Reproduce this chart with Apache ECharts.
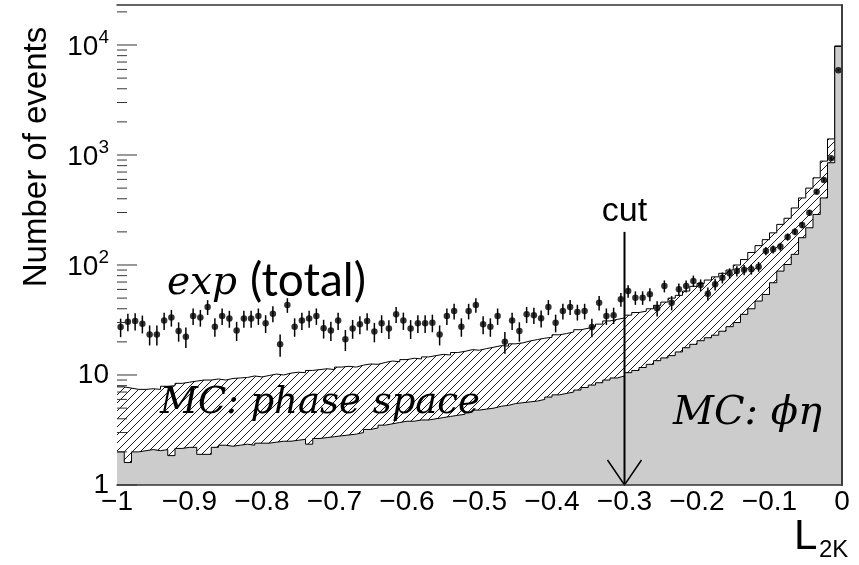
<!DOCTYPE html>
<html>
<head>
<meta charset="utf-8">
<title>L2K distribution</title>
<script src="https://cdn.jsdelivr.net/npm/echarts@6/dist/echarts.min.js"></script>
<style>
  html, body { margin: 0; padding: 0; background: #fff; }
  #chart { width: 859px; height: 565px; }
</style>
</head>
<body>
<div id="chart"></div>
<script>
// histogram binning: 100 bins over L2K in [-1, 0]
const binLo = -1
const binHi = 0
const nBins = 100

// MC: phi eta (grey, bottom of the stack)
const phiEta = [
  2.0, 1.6, 2.0, 2.05, 2.1, 2.05, 2.1, 1.85, 2.15, 2.2,
  2.2, 1.9, 1.9, 2.2, 2.3, 2.25, 2.3, 2.35, 2.3, 2.4,
  2.4, 2.45, 2.5, 2.5, 2.55, 2.6, 2.35, 2.65, 2.7, 2.75,
  2.8, 2.85, 2.9, 3.0, 3.2, 3.3, 3.5, 3.6, 3.7, 3.8,
  3.8, 3.9, 3.9, 4.0, 4.1, 4.2, 4.3, 4.4, 4.6, 4.8,
  4.9, 5.0, 5.2, 5.3, 5.5, 5.6, 5.7, 5.8, 6.0, 6.3,
  6.6, 6.8, 7.0, 7.3, 7.7, 8.1, 8.5, 9.0, 9.4, 9.8,
  10.5, 11.0, 11.7, 12.5, 13.5, 14.3, 15.0, 16.2, 17.7, 19.0,
  20.5, 21.8, 23.0, 25.0, 27.5, 30.0, 35.6, 40.0, 47.0, 54.0,
  69, 88, 101, 125, 177, 218, 288, 407, 850, 9700
]

// MC: phase space (hatched, stacked on top of phi eta)
const phaseSpace = [
  5.8, 6.0, 5.4, 5.35, 5.4, 5.35, 5.8, 6.15, 6.25, 6.4,
  6.6, 7.1, 7.1, 7.0, 6.7, 7.05, 7.1, 7.15, 7.5, 7.2,
  7.5, 7.75, 7.5, 7.9, 8.05, 7.9, 8.65, 8.55, 8.7, 8.45,
  9.0, 9.15, 8.9, 9.3, 9.4, 9.2, 9.5, 9.8, 9.5, 10.0,
  10.4, 10.1, 10.7, 11.0, 11.3, 11.0, 11.7, 12.0, 12.4, 12.0,
  12.5, 12.9, 13.3, 13.0, 13.7, 14.0, 14.7, 15.2, 15.6, 15.7,
  16.6, 17.0, 17.6, 18.5, 18.9, 19.4, 20.5, 22.0, 22.6, 23.2,
  24.5, 26.0, 26.3, 27.5, 29.5, 31.7, 35.0, 36.8, 40.3, 45.0,
  47.5, 51.2, 55.0, 59.0, 62.5, 70.0, 76.4, 90.0, 103, 116,
  127, 146, 165, 205, 230, 282, 332, 473, 550, 100
]

// exp (total): measured counts per bin
const expTotal = [
  27.3, 30.5, 30.9, 29.3, 23.4, 23.4, 31.3, 33.3, 25.1, 22.3,
  34.4, 33.3, 41.5, 27.5, 34.4, 32.6, 25.4, 32.6, 32.6, 34.4,
  29.5, 36.1, 19.0, 43.3, 27.5, 31.3, 32.6, 34.4, 26.6, 25.4,
  31.3, 21.1, 26.5, 28.9, 30.9, 24.8, 29.5, 26.4, 35.6, 31.3,
  26.4, 29.5, 29.5, 29.9, 23.4, 34.4, 38.2, 27.5, 38.2, 43.3,
  28.9, 27.5, 34.4, 20.1, 31.3, 25.1, 35.6, 35.0, 32.8, 41.5,
  29.9, 38.2, 41.5, 37.4, 38.2, 27.3, 45.4, 34.4, 35.0, 48.8,
  58.0, 50.5, 50.5, 54.1, 40.4, 64.4, 45.4, 60.1, 64.4, 71.6,
  65.8, 54.9, 66.7, 76.7, 84.0, 88.2, 90.4, 91.3, 96.6, 134,
  139, 147, 180, 201, 231, 299, 464, 593, 933, 5900
]

// axis ticks
const yMajor = [1, 10, 100, 1000, 10000]
const yMinor = [2, 3, 4, 5, 6, 7, 8, 9, 20, 30, 40, 50, 60, 70, 80, 90,
  200, 300, 400, 500, 600, 700, 800, 900, 2000, 3000, 4000, 5000, 6000, 7000, 8000, 9000, 20000]

// cut position
const cutX = -0.3
const cutTop = 200

const binW = (binHi - binLo) / nBins
const edges = []
const centers = []
for (let i = 0; i < nBins; i++) {
  edges.push(binLo + i * binW)
  centers.push(binLo + (i + 0.5) * binW)
}
const mcTotal = phiEta.map((v, i) => v + phaseSpace[i])

function stepData(vals) {
  const d = vals.map((v, i) => [edges[i], v])
  d.push([binHi, vals[vals.length - 1]])
  return d
}

function makeHatch() {
  const c = document.createElement('canvas')
  c.width = 8
  c.height = 8
  const g = c.getContext('2d')
  g.fillStyle = '#fff'
  g.fillRect(0, 0, 8, 8)
  g.strokeStyle = '#000'
  g.lineWidth = 0.9
  g.beginPath()
  g.moveTo(0, 8); g.lineTo(8, 0)
  g.moveTo(-1, 1); g.lineTo(1, -1)
  g.moveTo(7, 9); g.lineTo(9, 7)
  g.stroke()
  return c
}

const frame = '#333'
const sans = 'Liberation Sans'

// ticks on the left frame: [x, value, length]
const yTicks = yMajor.map(v => [binLo, v, 20]).concat(yMinor.map(v => [binLo, v, 10]))

const chart = echarts.init(document.getElementById('chart'), null, { renderer: 'canvas' })

chart.setOption({
  animation: false,
  backgroundColor: '#fff',
  grid: { left: 117, right: 17, top: 5, bottom: 80 },
  xAxis: [{
    type: 'value', min: binLo, max: binHi, interval: 0.1, z: 10,
    axisLine: { show: true, lineStyle: { color: frame, width: 1.5 } },
    axisTick: { show: false },
    splitLine: { show: false },
    axisLabel: {
      color: '#000', fontFamily: sans, fontSize: 28, margin: 3,
      formatter: v => String(Math.round(v * 10) / 10).replace('-', '\u2212')
    }
  }, {
    type: 'value', min: binLo, max: binHi, position: 'top', z: 10,
    axisLine: { show: true, lineStyle: { color: frame, width: 1.5 } },
    axisTick: { show: false }, axisLabel: { show: false }, splitLine: { show: false }
  }],
  yAxis: [{
    type: 'log', logBase: 10, min: 1, max: 23100, position: 'left', z: 10,
    axisLine: { show: true, lineStyle: { color: frame, width: 1.5 } },
    axisTick: { show: false },
    splitLine: { show: false },
    axisLabel: {
      customValues: yMajor, margin: 8, color: '#000', fontFamily: sans, fontSize: 28,
      formatter: v => {
        const k = Math.round(Math.log10(v))
        if (k < 2) return String(Math.round(v))
        return '{b|10}{s|' + k + '}'
      },
      rich: {
        b: { fontFamily: sans, fontSize: 28, color: '#000', verticalAlign: 'bottom' },
        s: { fontFamily: sans, fontSize: 19, color: '#000', verticalAlign: 'bottom', padding: [0, 0, 14, 0] }
      }
    }
  }, {
    type: 'log', logBase: 10, min: 1, max: 23100, position: 'right', z: 10,
    axisLine: { show: true, lineStyle: { color: frame, width: 1.5 } },
    axisTick: { show: false }, minorTick: { show: false },
    axisLabel: { show: false }, splitLine: { show: false }
  }],
  series: [{
    name: 'MC: phase space',
    type: 'line',
    step: 'end',
    symbol: 'none',
    z: 2,
    data: stepData(mcTotal),
    lineStyle: { color: '#000', width: 1 },
    areaStyle: { origin: 'start', opacity: 1, color: { image: makeHatch(), repeat: 'repeat' } }
  }, {
    name: 'MC: phi eta',
    type: 'line',
    step: 'end',
    symbol: 'none',
    z: 3,
    data: stepData(phiEta),
    lineStyle: { color: '#000', width: 1 },
    areaStyle: { origin: 'start', opacity: 1, color: '#cccccc' }
  }, {
    name: 'exp errors',
    type: 'custom',
    z: 4,
    encode: { x: 0, y: 1 },
    data: expTotal.map((v, i) => [centers[i], v, Math.sqrt(v)]),
    renderItem: (params, api) => {
      const x = api.value(0)
      const y = api.value(1)
      const e = api.value(2)
      const p1 = api.coord([x, y - e])
      const p2 = api.coord([x, y + e])
      return {
        type: 'line',
        shape: { x1: p1[0], y1: p1[1], x2: p2[0], y2: p2[1] },
        style: { stroke: '#000', lineWidth: 1.5 }
      }
    }
  }, {
    name: 'exp (total)',
    type: 'scatter',
    z: 5,
    symbol: 'circle',
    symbolSize: 6.5,
    itemStyle: { color: '#000' },
    data: expTotal.map((v, i) => [centers[i], v])
  }, {
    // log-axis ticks on the left frame, drawn inward
    name: 'y ticks',
    type: 'custom',
    z: 9,
    silent: true,
    encode: { x: 0, y: 1 },
    data: yTicks,
    renderItem: (params, api) => {
      const p = api.coord([api.value(0), api.value(1)])
      return {
        type: 'line',
        shape: { x1: p[0], y1: p[1], x2: p[0] + api.value(2), y2: p[1] },
        style: { stroke: frame, lineWidth: 1 }
      }
    }
  }, {
    name: 'cut',
    type: 'custom',
    z: 6,
    encode: { x: 0, y: 1 },
    data: [[cutX, cutTop, 1]],
    renderItem: (params, api) => {
      const top = api.coord([api.value(0), api.value(1)])
      const bot = api.coord([api.value(0), api.value(2)])
      return {
        type: 'group',
        children: [{
          type: 'line',
          shape: { x1: top[0], y1: top[1], x2: bot[0], y2: bot[1] },
          style: { stroke: '#000', lineWidth: 2 }
        }, {
          type: 'polyline',
          shape: { points: [[bot[0] - 17, bot[1] - 25], [bot[0], bot[1]], [bot[0] + 17, bot[1] - 25]] },
          style: { stroke: '#000', lineWidth: 1.5, fill: null }
        }, {
          type: 'text',
          x: top[0], y: top[1] - 20,
          style: { text: 'cut', fill: '#000', font: '34px "Liberation Sans"', align: 'center', verticalAlign: 'middle' }
        }]
      }
    }
  }],
  graphic: [{
    type: 'text', x: 37, y: 157, rotation: Math.PI / 2, z: 100,
    style: { text: 'Number of events', fill: '#000', font: '33px "Liberation Sans"', align: 'center', verticalAlign: 'middle' }
  }, {
    type: 'text', x: 794, y: 537, z: 100,
    style: { text: 'L', fill: '#000', font: '42px "Liberation Sans"', align: 'left', verticalAlign: 'middle' }
  }, {
    type: 'text', x: 819, y: 550, z: 100,
    style: { text: '2K', fill: '#000', font: '24px "Liberation Sans"', align: 'left', verticalAlign: 'middle' }
  }, {
    type: 'text', x: 167, y: 284, z: 100,
    style: { text: 'exp', fill: '#000', font: 'italic 39px "DejaVu Serif"', align: 'left', verticalAlign: 'middle' }
  }, {
    type: 'text', x: 250, y: 281, z: 100,
    style: { text: '(total)', fill: '#000', font: '46px Lato', align: 'left', verticalAlign: 'middle' }
  }, {
    type: 'text', x: 160, y: 403, z: 100,
    style: { text: 'MC: phase space', fill: '#000', font: 'italic 37px "DejaVu Serif"', align: 'left', verticalAlign: 'middle' }
  }, {
    type: 'text', x: 673, y: 414, z: 100,
    style: { text: 'MC: \u03D5\u03B7', fill: '#000', font: 'italic 40px "DejaVu Serif"', align: 'left', verticalAlign: 'middle' }
  }]
})
</script>
</body>
</html>
